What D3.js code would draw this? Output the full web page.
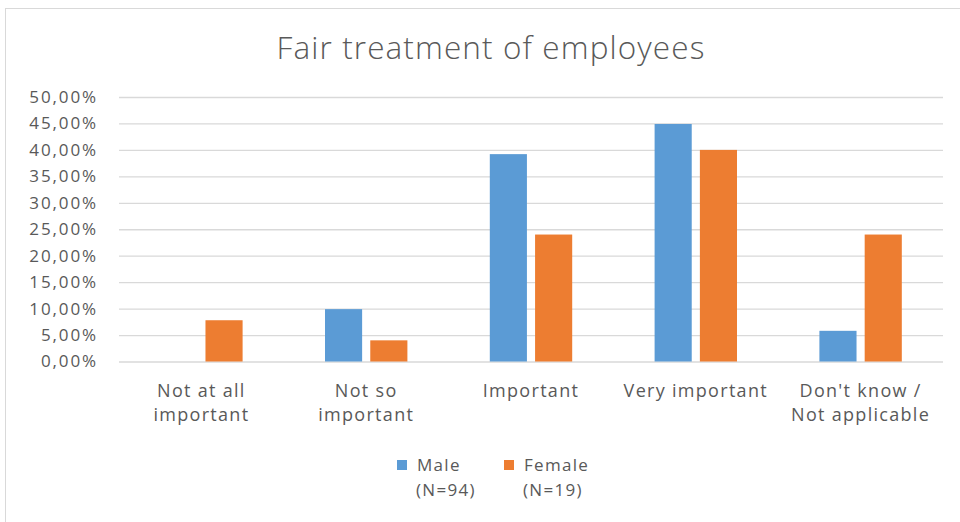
<!DOCTYPE html>
<html>
<head>
<meta charset="utf-8">
<script src="https://cdn.jsdelivr.net/npm/d3@7"></script>
<style>
  html, body { margin: 0; padding: 0; background: #fff; }
  svg { display: block; }
  text { font-family: "Open Sans", "DejaVu Sans", sans-serif; fill: #595959; }
</style>
</head>
<body>
<svg id="chart" width="960" height="522"></svg>
<script>
const title = "Fair treatment of employees";
const categories = [
  ["Not at all", "important"],
  ["Not so", "important"],
  ["Important"],
  ["Very important"],
  ["Don't know /", "Not applicable"]
];
const seriesNames = ["Male", "Female"];
const seriesSub = ["(N=94)", "(N=19)"];
const maleValues = [0, 9.9, 39.2, 44.9, 5.8];
const femaleValues = [7.8, 4.0, 24.0, 40.0, 24.0];
const yTicks = [0, 5, 10, 15, 20, 25, 30, 35, 40, 45, 50];
const colors = ["#5b9bd5", "#ed7d31"];

const svg = d3.select("#chart");

// chart border
svg.append("rect")
  .attr("x", 5.5).attr("y", 8.5)
  .attr("width", 970).attr("height", 540)
  .attr("fill", "#fff").attr("stroke", "#d9d9d9").attr("stroke-width", 1);

const plot = { left: 119, right: 943, top: 97, bottom: 361.5 };

const y = d3.scaleLinear().domain([0, 50]).range([plot.bottom, plot.top]);
const x0 = d3.scaleBand().domain(d3.range(categories.length))
  .range([plot.left, plot.right]).paddingInner(0.5).paddingOuter(0.25);
const x1 = d3.scaleBand().domain(d3.range(seriesNames.length))
  .range([0, x0.bandwidth()]).paddingInner(0.18);

// title
svg.append("text")
  .attr("x", 491).attr("y", 59)
  .attr("text-anchor", "middle")
  .style("font-size", "31.5px").style("font-weight", 300)
  .style("letter-spacing", "1.1px")
  .text(title);

// gridlines
const grid = d3.axisLeft(y).tickValues(yTicks).tickSize(-(plot.right - plot.left)).tickFormat("");
svg.append("g").attr("transform", `translate(${plot.left},0)`).call(grid)
  .call(g => g.select(".domain").remove())
  .call(g => g.selectAll("line").attr("stroke", "#d9d9d9").attr("stroke-width", 1.3));

// y axis labels
const fmt = v => v.toFixed(2).replace(".", ",") + "%";
const yAxis = d3.axisLeft(y).tickValues(yTicks).tickSize(0).tickPadding(21).tickFormat(fmt);
svg.append("g").attr("transform", `translate(${plot.left},0)`).call(yAxis)
  .call(g => g.select(".domain").remove())
  .call(g => g.selectAll("text").style("font-size", "17px").attr("fill", "#595959")
    .style("letter-spacing", "1.9px")
    .style("font-family", "'Open Sans', sans-serif"));

// bars
const data = categories.map((c, i) => ({ i, vals: [maleValues[i], femaleValues[i]] }));
const groups = svg.append("g").selectAll("g").data(data).join("g")
  .attr("transform", d => `translate(${x0(d.i)},0)`);
groups.selectAll("rect").data(d => d.vals.map((v, k) => ({ v, k }))).join("rect")
  .attr("x", d => x1(d.k))
  .attr("width", x1.bandwidth())
  .attr("y", d => y(d.v))
  .attr("height", d => y(0) - y(d.v))
  .attr("fill", d => colors[d.k]);

// category labels
const catG = svg.append("g");
categories.forEach((lines, i) => {
  const cx = x0(i) + x0.bandwidth() / 2;
  lines.forEach((ln, j) => {
    catG.append("text")
      .attr("x", cx).attr("y", 397 + j * 24)
      .attr("text-anchor", "middle")
      .style("font-size", "18px")
      .style("letter-spacing", "1.3px")
      .text(ln);
  });
});

// legend
const legend = svg.append("g");
const legendX = [397, 504];
seriesNames.forEach((name, k) => {
  legend.append("rect")
    .attr("x", legendX[k]).attr("y", 460)
    .attr("width", 10).attr("height", 10)
    .attr("fill", colors[k]);
  legend.append("text")
    .attr("x", legendX[k] + 20).attr("y", 471)
    .style("font-size", "17px").style("letter-spacing", "1.3px").text(name);
  legend.append("text")
    .attr("x", legendX[k] + 19).attr("y", 496)
    .style("font-size", "17px").style("letter-spacing", "1.3px").text(seriesSub[k]);
});
</script>
</body>
</html>
